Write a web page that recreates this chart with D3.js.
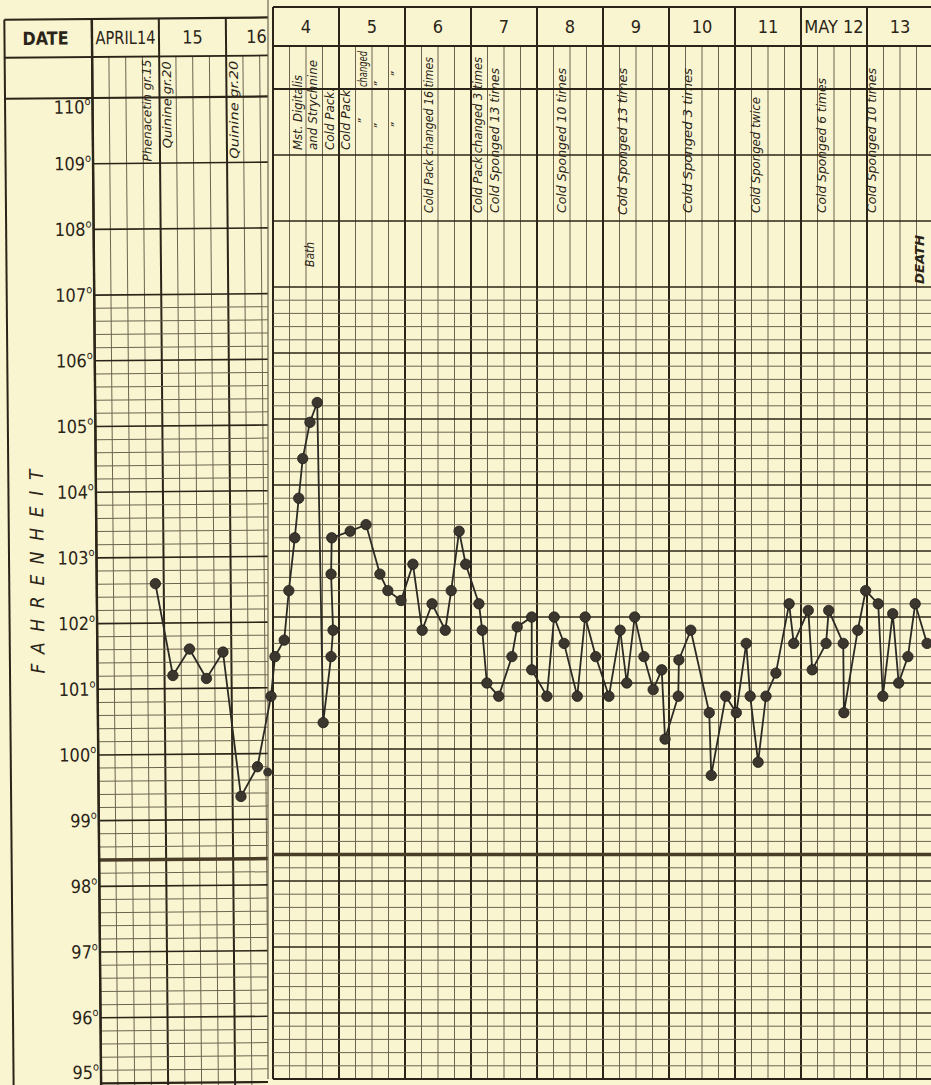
<!DOCTYPE html>
<html>
<head>
<meta charset="utf-8">
<script src="https://cdnjs.cloudflare.com/ajax/libs/d3/7.8.5/d3.min.js"></script>
<style>
  body { margin: 0; background: #f9f5d0; }
  svg { display: block; }
  text { font-family: "Liberation Sans Narrow", "DejaVu Sans Condensed", "Liberation Sans", sans-serif; fill: #2b2418; }
</style>
</head>
<body>
<svg width="931" height="1085"></svg>
<script>
// April sheet (left, partly covered)
var leftHeads = ["APRIL14", "15", "16"];
var leftDays = [14.875, 15.125, 15.375, 15.625, 15.875, 16.125, 16.375];
var leftTemps = [102.6, 101.2, 101.6, 101.15, 101.55, 99.35, 99.8];

// May sheet (right)
var rightHeads = ["4", "5", "6", "7", "8", "9", "10", "11", "MAY 12", "13"];
var rightDays = [3.97, 4.03, 4.17, 4.24, 4.33, 4.39, 4.45, 4.56, 4.67, 4.76,
  4.88, 4.91, 4.88, 4.89, 5.17, 5.41, 5.62, 5.74, 5.94, 6.12,
  6.26, 6.41, 6.61, 6.70, 6.82, 6.92, 7.12, 7.17, 7.24, 7.42,
  7.62, 7.70, 7.92, 7.92, 8.15, 8.26, 8.41, 8.61, 8.73, 8.89,
  9.09, 9.26, 9.36, 9.48, 9.62, 9.76, 9.89, 9.94, 10.14, 10.15,
  10.33, 10.61, 10.64, 10.86, 11.02, 11.17, 11.23, 11.35, 11.47, 11.62,
  11.82, 11.89, 12.11, 12.17, 12.38, 12.42, 12.64, 12.65, 12.86, 12.98,
  13.17, 13.24, 13.39, 13.48, 13.62, 13.73, 13.91];
var rightTemps = [100.8, 101.4, 101.65, 102.4, 103.2, 103.8, 104.4, 104.95, 105.25, 100.4,
  101.4, 101.8, 102.65, 103.2, 103.3, 103.4, 102.65, 102.4, 102.25, 102.8,
  101.8, 102.2, 101.8, 102.4, 103.3, 102.8, 102.2, 101.8, 101.0, 100.8,
  101.4, 101.85, 102.0, 101.2, 100.8, 102.0, 101.6, 100.8, 102.0, 101.4,
  100.8, 101.8, 101.0, 102.0, 101.4, 100.9, 101.2, 100.15, 100.8, 101.35,
  101.8, 100.55, 99.6, 100.8, 100.55, 101.6, 100.8, 99.8, 100.8, 101.15,
  102.2, 101.6, 102.1, 101.2, 101.6, 102.1, 101.6, 100.55, 101.8, 102.4,
  102.2, 100.8, 102.05, 101.0, 101.4, 102.2, 101.6];
// lone reading sitting on the edge of the May sheet
var strayDays = [3.92];
var strayTemps = [99.65];

var leftNotes = ["Phenacetin gr.15", "Quinine   gr.20", "Quinine     gr.20"];
var leftNoteDays = [14.81, 15.11, 16.11];
var rightNotes = ["Mst. Digitalis", "and Strychnine", "Bath", "Cold Pack.", "Cold Pack",
  "\u201d", "changed", "\u201d", "\u201d", "\u201d", "\u201d",
  "Cold Pack  changed 16 times", "Cold Pack  changed 3   times", "Cold Sponged 13 times",
  "Cold Sponged 10 times", "Cold Sponged 13 times", "Cold Sponged 3 times",
  "Cold Sponged twice", "Cold Sponged 6 times", "Cold Sponged 10 times", "DEATH"];
var rightNoteDays = [4.38, 4.6, 4.56, 4.86, 5.11, 5.36, 5.36, 5.6, 5.6, 5.86, 5.86,
  6.36, 7.11, 7.36, 8.38, 9.30, 10.29, 11.32, 12.32, 13.08, 13.80];

var degrees = d3.range(95, 111);

// layout
var svg = d3.select("svg"),
  width = +svg.attr("width"),
  height = +svg.attr("height");

var paper = "#f9f5d0", ink = "#2b2418", faint = "#6e6350";
var tilt = -0.5;

var xL = d3.scaleLinear().domain([14, 17]).range([92.5, 293.5]);
var yL = d3.scaleLinear().domain([95, 110]).range([1083.5, 98]);
var xR = d3.scaleLinear().domain([4, 14]).range([273, 933]);
var yR = d3.scaleLinear().domain([95, 110]).range([1079, 89]);

// note boxes: [bottom y, text length]
var leftNoteBox = [[162, 102], [149, 87], [160, 98]];
var rightNoteBox = [[150, 75], [150, 90], [267, 0], [150, 62], [150, 60],
  [124, 0], [87, 36], [129, 0], [87, 0], [128, 0], [77, 0],
  [213, 156], [213, 156], [213, 145], [213, 145], [215, 147], [213, 145],
  [213, 116], [213, 135], [213, 145], [284, 49]];

svg.append("rect").attr("width", width).attr("height", height).attr("fill", paper);

function sheetGrid(g, x, y, d0, d1, right, top, headBottom, bottom) {
  var quarters = d3.range(d0 * 4, d1 * 4 + 1);
  g.append("g").selectAll("line")
    .data(quarters)
    .enter().append("line")
    .attr("x1", function(q) { return x(q / 4); })
    .attr("x2", function(q) { return x(q / 4); })
    .attr("y1", function(q) { return q % 4 === 0 ? top : headBottom; })
    .attr("y2", bottom)
    .attr("stroke", function(q) { return q % 4 === 0 ? ink : faint; })
    .attr("stroke-width", function(q) { return q % 4 === 0 ? 2 : 1; });

  var fifths = d3.range(476, 535).filter(function(v) { return v % 5 !== 0; });
  g.append("g").selectAll("line")
    .data(fifths)
    .enter().append("line")
    .attr("x1", x(d0))
    .attr("x2", right)
    .attr("y1", function(v) { return y(v / 5); })
    .attr("y2", function(v) { return y(v / 5); })
    .attr("stroke", faint)
    .attr("stroke-width", 1);

  g.append("g").selectAll("line")
    .data(degrees)
    .enter().append("line")
    .attr("x1", x(d0))
    .attr("x2", right)
    .attr("y1", function(v) { return y(v); })
    .attr("y2", function(v) { return y(v); })
    .attr("stroke", ink)
    .attr("stroke-width", function(v) { return v === 110 || v === 95 ? 2.2 : 1.6; });

  // normal temperature
  g.append("line")
    .attr("x1", x(d0)).attr("x2", right)
    .attr("y1", y(98.4)).attr("y2", y(98.4))
    .attr("stroke", "#4a3d28")
    .attr("stroke-width", 3.5);
}

function drawNotes(g, x, texts, days, boxes, size) {
  texts.forEach(function(t, i) {
    var box = boxes[i];
    var txt = g.append("text")
      .attr("transform", "translate(" + x(days[i]) + "," + box[0] + ") rotate(-90)")
      .attr("dy", "0.35em")
      .attr("font-size", size)
      .attr("font-style", "italic")
      .text(t);
    if (t === "DEATH") txt.attr("font-weight", "bold").attr("font-size", size + 1);
    if (box[1] > 0) txt.attr("textLength", box[1]).attr("lengthAdjust", "spacingAndGlyphs");
  });
}

function drawSeries(g, x, y, days, temps) {
  var pts = days.map(function(d, i) { return [d, temps[i]]; });
  g.append("path")
    .datum(pts)
    .attr("fill", "none")
    .attr("stroke", "#2c2a24")
    .attr("stroke-width", 1.8)
    .attr("d", d3.line().x(function(d) { return x(d[0]); }).y(function(d) { return y(d[1]); }));
  g.append("g").selectAll("circle")
    .data(pts)
    .enter().append("circle")
    .attr("cx", function(d) { return x(d[0]); })
    .attr("cy", function(d) { return y(d[1]); })
    .attr("r", 5.2)
    .attr("fill", "#3b362e")
    .attr("stroke", "#1f1c17")
    .attr("stroke-width", 0.8);
}

// ---- left sheet ----
svg.append("clipPath").attr("id", "clipL")
  .append("rect").attr("x", 0).attr("y", 0).attr("width", 268).attr("height", height);

var left = svg.append("g").attr("clip-path", "url(#clipL)")
  .append("g").attr("transform", "rotate(" + tilt + "," + xL(14) + "," + yL(110) + ")");

sheetGrid(left, xL, yL, 14, 17, xL(17), 19, 57, 1100);

left.append("line").attr("x1", 5).attr("x2", 5).attr("y1", 19).attr("y2", 1100)
  .attr("stroke", ink).attr("stroke-width", 2);
left.append("line").attr("x1", 5).attr("x2", xL(17)).attr("y1", 19).attr("y2", 19)
  .attr("stroke", ink).attr("stroke-width", 2.2);
left.append("line").attr("x1", 5).attr("x2", xL(17)).attr("y1", 57).attr("y2", 57)
  .attr("stroke", ink).attr("stroke-width", 1.8);
left.append("line").attr("x1", 5).attr("x2", xL(14)).attr("y1", yL(110)).attr("y2", yL(110))
  .attr("stroke", ink).attr("stroke-width", 2.2);
left.append("line").attr("x1", xL(14)).attr("x2", xL(14)).attr("y1", 19).attr("y2", 1100)
  .attr("stroke", ink).attr("stroke-width", 2.4);

left.append("text").attr("x", 46).attr("y", 38).attr("dy", "0.35em")
  .attr("text-anchor", "middle").attr("font-size", 18).attr("font-weight", "bold")
  .attr("textLength", 46).attr("lengthAdjust", "spacingAndGlyphs")
  .text("DATE");

left.selectAll(".head").data(leftHeads)
  .enter().append("text")
  .attr("x", function(d, i) { return i === 2 ? xL(16.5) - 3 : xL(14.5 + i); })
  .attr("y", 38).attr("dy", "0.35em")
  .attr("text-anchor", "middle").attr("font-size", 18)
  .each(function(d) { if (d.length > 3) d3.select(this).attr("textLength", 60).attr("lengthAdjust", "spacingAndGlyphs"); })
  .text(function(d) { return d; });

// the top and bottom labels sit inside the grid rather than on their line
var lab = left.selectAll(".deg").data(degrees)
  .enter().append("text")
  .attr("x", xL(14) - 2)
  .attr("y", function(d) { return yL(d) + (d === 110 ? 9 : d === 95 ? -11 : 0); })
  .attr("dy", "0.35em")
  .attr("text-anchor", "end")
  .attr("font-size", 18);
lab.append("tspan").text(function(d) { return d; });
lab.append("tspan").attr("dy", "-0.75em").attr("font-size", 11).text("o");

left.append("text")
  .attr("transform", "translate(33," + yL(102.8) + ") rotate(-90)")
  .attr("dy", "0.35em")
  .attr("text-anchor", "middle")
  .attr("font-size", 19)
  .attr("font-style", "italic")
  .attr("textLength", 204)
  .attr("lengthAdjust", "spacing")
  .text("FAHRENHEIT");

drawNotes(left, xL, leftNotes, leftNoteDays, leftNoteBox, 12);
drawSeries(left, xL, yL, leftDays, leftTemps);

// ---- right sheet ----
var right = svg.append("g");
right.append("rect").attr("x", 268).attr("y", 0).attr("width", width - 268).attr("height", height)
  .attr("fill", paper);
right.append("line").attr("x1", 268).attr("x2", 268).attr("y1", 0).attr("y2", yR(95))
  .attr("stroke", faint).attr("stroke-width", 1.2);

sheetGrid(right, xR, yR, 4, 14, width, 7, 46, yR(95));

right.append("line").attr("x1", xR(4)).attr("x2", width).attr("y1", 7).attr("y2", 7)
  .attr("stroke", ink).attr("stroke-width", 2.2);
right.append("line").attr("x1", xR(4)).attr("x2", width).attr("y1", 46).attr("y2", 46)
  .attr("stroke", ink).attr("stroke-width", 1.8);

right.selectAll(".head").data(rightHeads)
  .enter().append("text")
  .attr("x", function(d, i) { return xR(4.5 + i); })
  .attr("y", 27).attr("dy", "0.35em")
  .attr("text-anchor", "middle").attr("font-size", 18)
  .text(function(d) { return d; });

drawNotes(right, xR, rightNotes, rightNoteDays, rightNoteBox, 12);
drawSeries(right, xR, yR, rightDays, rightTemps);

// line carried over the edge from the April sheet to the May sheet
var a = tilt * Math.PI / 180, cx = xL(14), cy = yL(110);
function onLeft(t, v) {
  var dx = xL(t) - cx, dy = yL(v) - cy;
  return [cx + dx * Math.cos(a) - dy * Math.sin(a), cy + dx * Math.sin(a) + dy * Math.cos(a)];
}
var last = leftDays.length - 1;
svg.append("path")
  .datum([onLeft(leftDays[last], leftTemps[last]), [xR(rightDays[0]), yR(rightTemps[0])]])
  .attr("fill", "none")
  .attr("stroke", "#2c2a24")
  .attr("stroke-width", 1.8)
  .attr("d", d3.line());

svg.selectAll(".stray").data(strayDays)
  .enter().append("circle")
  .attr("cx", function(d) { return xR(d); })
  .attr("cy", function(d, i) { return yR(strayTemps[i]); })
  .attr("r", 4.5)
  .attr("fill", "#3b362e");
</script>
</body>
</html>
